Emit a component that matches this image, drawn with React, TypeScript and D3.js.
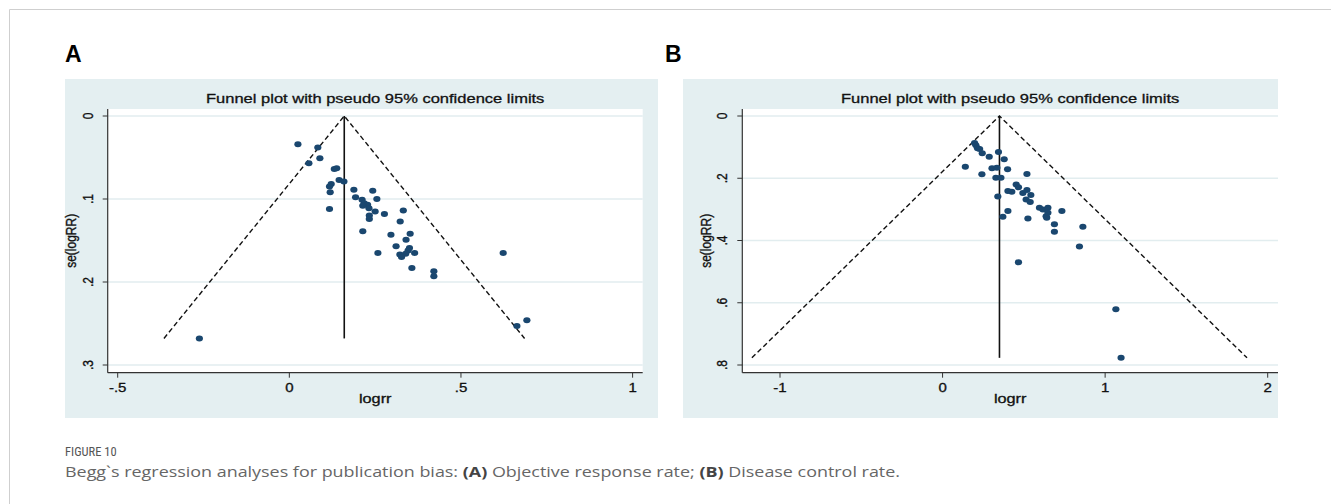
import React from 'react';
import * as d3 from 'd3';

// Panel A: objective response rate (logrr, se(logRR))
const logrrA = [0.025, 0.083, 0.089, 0.057, 0.131, 0.138, 0.145, 0.159, 0.122, 0.117, 0.119, 0.117, 0.188, 0.243, 0.193, 0.255, 0.212, 0.218, 0.228, 0.214, 0.232, 0.250, 0.233, 0.233, 0.277, 0.332, 0.323, 0.214, 0.296, 0.352, 0.340, 0.311, 0.350, 0.346, 0.339, 0.322, 0.327, 0.365, 0.258, 0.357, 0.421, 0.421, 0.623, 0.663, 0.692, -0.262];
const seA = [0.034, 0.038, 0.051, 0.057, 0.064, 0.063, 0.077, 0.079, 0.082, 0.085, 0.092, 0.112, 0.089, 0.090, 0.098, 0.100, 0.101, 0.105, 0.107, 0.108, 0.111, 0.115, 0.120, 0.124, 0.118, 0.114, 0.127, 0.139, 0.143, 0.142, 0.149, 0.157, 0.159, 0.162, 0.166, 0.167, 0.170, 0.165, 0.165, 0.183, 0.187, 0.193, 0.165, 0.253, 0.246, 0.268];
const pooledA = 0.16;

// Panel B: disease control rate
const logrrB = [0.197, 0.205, 0.215, 0.228, 0.244, 0.287, 0.344, 0.379, 0.140, 0.304, 0.334, 0.400, 0.242, 0.519, 0.328, 0.359, 0.453, 0.402, 0.426, 0.467, 0.494, 0.519, 0.543, 0.514, 0.539, 0.340, 0.596, 0.617, 0.648, 0.637, 0.641, 0.648, 0.734, 0.402, 0.371, 0.525, 0.688, 0.688, 0.863, 0.842, 0.467, 1.066, 1.098];
const seB = [0.087, 0.094, 0.104, 0.106, 0.120, 0.131, 0.116, 0.139, 0.163, 0.168, 0.166, 0.171, 0.187, 0.186, 0.198, 0.198, 0.220, 0.241, 0.243, 0.229, 0.247, 0.238, 0.254, 0.268, 0.276, 0.259, 0.295, 0.300, 0.295, 0.322, 0.327, 0.311, 0.305, 0.305, 0.324, 0.329, 0.348, 0.372, 0.356, 0.419, 0.470, 0.621, 0.777];
const pooledB = 0.35;

const xTicksA = [-0.5, 0, 0.5, 1];
const xLabelsA = ['-.5', '0', '.5', '1'];
const yTicksA = [0, 0.1, 0.2, 0.3];
const yLabelsA = ['0', '.1', '.2', '.3'];

const xTicksB = [-1, 0, 1, 2];
const xLabelsB = ['-1', '0', '1', '2'];
const yTicksB = [0, 0.2, 0.4, 0.6, 0.8];
const yLabelsB = ['0', '.2', '.4', '.6', '.8'];

const title = 'Funnel plot with pseudo 95% confidence limits';

const FONT = 'Liberation Sans, Arial, sans-serif';
const NAVY = '#1a476f';
const BG = '#e4eff1';
const GRID = '#e2edef';
const SX = 1.25; // the Stata images are stretched horizontally

const panels = [
  {
    letter: 'A', letterX: 65,
    bg: { x0: 65, x1: 658 },
    plot: { l: 107.7, r: 642.7 },
    xDomain: [-0.5, 1], xRange: [117.7, 632.6],
    yDomain: [0, 0.3],
    xTicks: xTicksA, xLabels: xLabelsA, yTicks: yTicksA, yLabels: yLabelsA,
    logrr: logrrA, se: seA, pooled: pooledA,
  },
  {
    letter: 'B', letterX: 665,
    bg: { x0: 683, x1: 1278 },
    plot: { l: 742.3, r: 1278 },
    xDomain: [-1, 2], xRange: [780, 1267.7],
    yDomain: [0, 0.8],
    xTicks: xTicksB, xLabels: xLabelsB, yTicks: yTicksB, yLabels: yLabelsB,
    logrr: logrrB, se: seB, pooled: pooledB,
  },
];

// slightly heavier text, like the resampled Stata export
const heavy = { stroke: '#111', strokeWidth: 0.3 };

const Panel = ({ p }: { p: any }) => {
  const top = 109, bottom = 372.7, bgTop = 79, bgBottom = 418;
  const x = d3.scaleLinear().domain(p.xDomain).range(p.xRange);
  const y = d3.scaleLinear().domain(p.yDomain).range([116, 365]);
  const seMax = d3.max(p.se as number[]) as number;
  const funnel = d3.line<[number, number]>().x(d => x(d[0])).y(d => y(d[1]));
  const funnelPts: [number, number][] = [
    [p.pooled - 1.96 * seMax, seMax],
    [p.pooled, 0],
    [p.pooled + 1.96 * seMax, seMax],
  ];
  const cx = (p.plot.l + p.plot.r) / 2;
  const cy = (top + bottom) / 2;
  return (
    <g>
      <text x={p.letterX} y={62} fontFamily={FONT} fontWeight="bold" fontSize={23} fill="#000">{p.letter}</text>
      <rect x={p.bg.x0} y={bgTop} width={p.bg.x1 - p.bg.x0} height={bgBottom - bgTop} fill={BG} />
      <rect x={p.plot.l} y={top} width={p.plot.r - p.plot.l} height={bottom - top} fill="#fff" />
      {p.yTicks.map((t: number) => (
        <line key={'g' + t} x1={p.plot.l} x2={p.plot.r} y1={y(t)} y2={y(t)} stroke={GRID} strokeWidth={1.3} />
      ))}
      <text transform={`translate(${cx},103) scale(${SX},1)`} textAnchor="middle" fontFamily={FONT} fontSize={13.2} fill="#111" {...heavy}>{title}</text>
      {/* axes */}
      <line x1={p.plot.l} x2={p.plot.l} y1={top} y2={bottom} stroke="#333" strokeWidth={1.2} />
      <line x1={p.plot.l} x2={p.plot.r} y1={bottom} y2={bottom} stroke="#333" strokeWidth={1.2} />
      {p.yTicks.map((t: number, i: number) => (
        <g key={'y' + t}>
          <line x1={p.plot.l - 5} x2={p.plot.l} y1={y(t)} y2={y(t)} stroke="#333" strokeWidth={1} />
          <text transform={`translate(${p.plot.l - 15},${y(t)}) scale(${SX},1) rotate(-90)`} textAnchor="middle"
            fontFamily={FONT} fontSize={12} fill="#111" {...heavy}>{p.yLabels[i]}</text>
        </g>
      ))}
      {p.xTicks.map((t: number, i: number) => (
        <g key={'x' + t}>
          <line x1={x(t)} x2={x(t)} y1={bottom} y2={bottom + 5} stroke="#333" strokeWidth={1} />
          <text transform={`translate(${x(t)},391.5) scale(${SX},1)`} textAnchor="middle"
            fontFamily={FONT} fontSize={12} fill="#111" {...heavy}>{p.xLabels[i]}</text>
        </g>
      ))}
      <text transform={`translate(${cx},402.5) scale(${SX},1)`} textAnchor="middle" fontFamily={FONT} fontSize={13} fill="#111" {...heavy}>logrr</text>
      <text transform={`translate(${p.plot.l - 31.5},${cy}) scale(${SX},1) rotate(-90)`} textAnchor="middle"
        fontFamily={FONT} fontSize={12} fill="#111" {...heavy}>se(logRR)</text>
      {/* funnel */}
      <path d={funnel(funnelPts) as string} fill="none" stroke="#111" strokeWidth={1.4} strokeDasharray="5,3" />
      <line x1={x(p.pooled)} x2={x(p.pooled)} y1={y(0)} y2={y(seMax)} stroke="#111" strokeWidth={1.6} />
      {p.logrr.map((v: number, i: number) => (
        <ellipse key={'p' + i} cx={x(v)} cy={y(p.se[i])} rx={3.6} ry={3} fill={NAVY} />
      ))}
    </g>
  );
};

export default function App() {
  return (
    <div style={{ position: 'fixed', left: 0, top: 0 }}>
      <svg width={1331} height={504} style={{ display: 'block', background: '#fff' }}>
        <path d="M9.5,504 L9.5,9.5 L1331,9.5" fill="none" stroke="#cfcfcf" strokeWidth={1} />
        {panels.map(p => <Panel key={p.letter} p={p} />)}
        <text x={65} y={456} fontFamily="Liberation Sans Narrow, Roboto Condensed, Roboto, sans-serif" fontSize={12.5} fill="#555">FIGURE 10</text>
        <text x={65} y={477} textLength={835} lengthAdjust="spacingAndGlyphs"
          fontFamily="Open Sans, Roboto, sans-serif" fontSize={14.5} fill="#666">
          {'Begg`s regression analyses for publication bias: '}
          <tspan fontWeight="bold" fill="#444">(A)</tspan>
          {' Objective response rate; '}
          <tspan fontWeight="bold" fill="#444">(B)</tspan>
          {' Disease control rate.'}
        </text>
      </svg>
    </div>
  );
}
